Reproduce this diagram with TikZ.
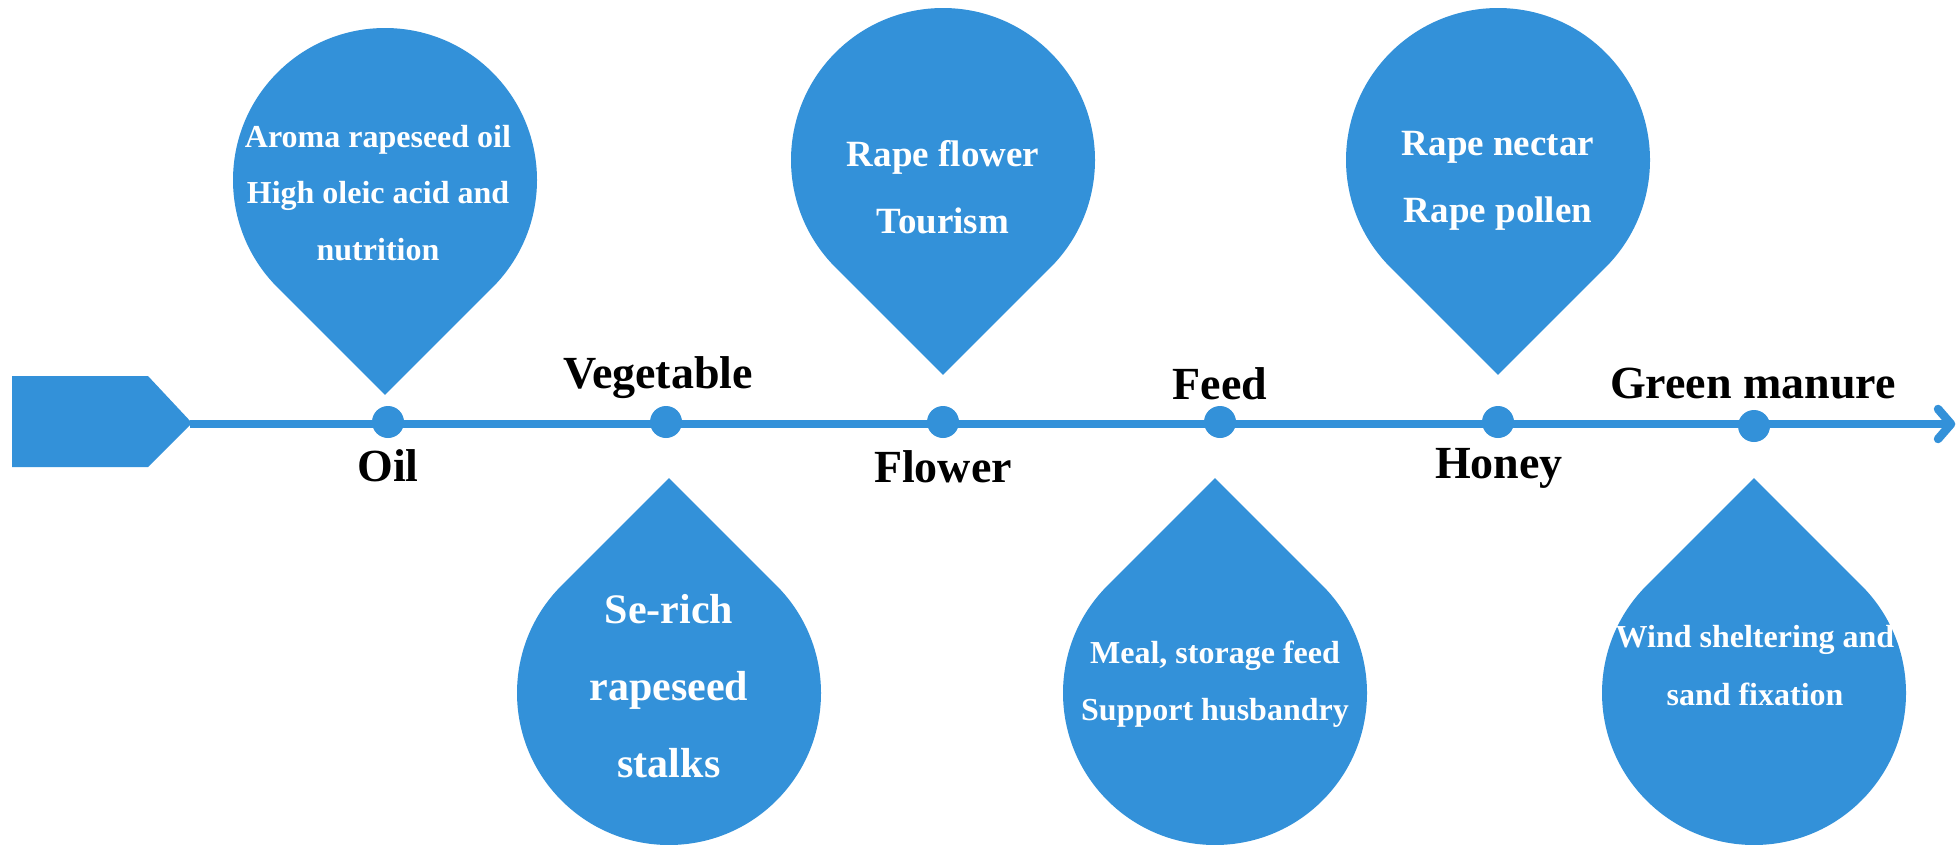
\documentclass[tikz,border=0pt]{standalone}
\usepackage{fontspec}
\setmainfont{Liberation Serif}
\definecolor{drop}{RGB}{51,145,217}
\tikzset{
  lab/.style={font=\fontsize{46}{50}\selectfont\bfseries, text=black, anchor=base, inner sep=0pt},
  dtxt/.style={font=\fontsize{#1}{#1}\selectfont\bfseries, text=white, anchor=base, inner sep=0pt},
  dot/.style={circle, fill=drop, minimum size=32pt, inner sep=0pt},
  axisline/.style={draw=drop, line width=8pt},
  chevron/.style={draw=drop, line width=8.5pt, line cap=round, line join=round},
  dropshape/.style={fill=drop, draw=none},
}
% drop with tip pointing down: centre x, centre y, radius
\newcommand{\dropdn}[3]{\path[dropshape] (#1,#2) ++(135:#3) arc[start angle=135, end angle=405, radius=#3] -- (#1,{#2+1.41421*#3}) -- cycle;}
% drop with tip pointing up
\newcommand{\dropup}[3]{\path[dropshape] (#1,#2) ++(-45:#3) arc[start angle=-45, end angle=225, radius=#3] -- (#1,{#2-1.41421*#3}) -- cycle;}
\begin{document}
\begin{tikzpicture}[x=1pt, y=-1pt]
\clip (0,0) rectangle (1956,844);
\fill[white] (0,0) rectangle (1956,844);

% start tag
\path[dropshape] (12,376) -- (148,376) -- (192,423) -- (148,467) -- (12,467) -- cycle;

% axis
\coordinate (start) at (190,424);
\coordinate (end) at (1951,424);
\draw[axisline] (start) -- (end);
\draw[chevron] (1938,409) -- (end) -- (1938,439);

% drops
\dropdn{385}{180}{152}
\dropdn{943}{160}{152}
\dropdn{1498}{160}{152}
\dropup{669}{693}{152}
\dropup{1215}{693}{152}
\dropup{1754}{693}{152}

% dots
\node[dot] (dOil) at (388,422) {};
\node[dot] (dVeg) at (666,422) {};
\node[dot] (dFlower) at (943,422) {};
\node[dot] (dFeed) at (1220,422) {};
\node[dot] (dHoney) at (1498,422) {};
\node[dot] (dGreen) at (1754,426) {};

% labels
\node[lab] (lOil) at (388,481) {Oil};
\node[lab] (lVeg) at (658,388) {Vegetable};
\node[lab] (lFlower) at (943,482) {Flower};
\node[lab] (lFeed) at (1220,399) {Feed};
\node[lab] (lHoney) at (1499,478) {Honey};
\node[lab] (lGreen) at (1753,398) {Green manure};

% drop texts
\node[dtxt=32] (tOil1) at (378,147) {Aroma rapeseed oil};
\node[dtxt=32] (tOil2) at (378,203) {High oleic acid and};
\node[dtxt=32] (tOil3) at (378,260) {nutrition};

\node[dtxt=37] (tFl1) at (943,166) {Rape flower};
\node[dtxt=37] (tFl2) at (943,233) {Tourism};

\node[dtxt=37] (tHo1) at (1498,155) {Rape nectar};
\node[dtxt=37] (tHo2) at (1498,222) {Rape pollen};

\node[dtxt=42] (tVe1) at (669,623) {Se-rich};
\node[dtxt=42] (tVe2) at (669,700) {rapeseed};
\node[dtxt=42] (tVe3) at (669,777) {stalks};

\node[dtxt=32] (tFe1) at (1215,663) {Meal, storage feed};
\node[dtxt=32] (tFe2) at (1215,720) {Support husbandry};

\node[dtxt=32] (tGr1) at (1755,647) {Wind sheltering and};
\node[dtxt=32] (tGr2) at (1755,705) {sand fixation};
\end{tikzpicture}
\end{document}
